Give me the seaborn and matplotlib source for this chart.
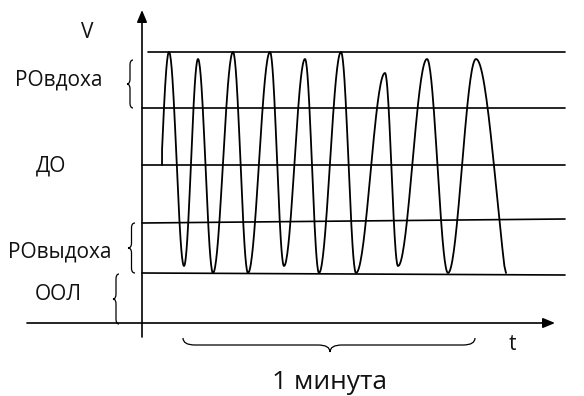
import numpy as np
import seaborn as sns
import matplotlib.pyplot as plt
from matplotlib.path import Path
from matplotlib.patches import PathPatch

# time (t) and volume (V), origin where the two axes cross
peak_t = [27, 56, 91, 128, 163, 199, 243, 285, 334]
peak_v = [271, 264, 271, 271, 264, 271, 250, 264, 264]
trough_t = [42, 71, 106, 142, 177, 214, 256, 306]
trough_v = [57, 50, 50, 57, 50, 50, 57, 50]
start_t, start_v = 20, 158
end_t, end_v = 364, 50

# horizontal level lines: start, end, left value, right value
level_start = [6, 0, 0, 0, 0]
level_end = [423, 423, 423, 423, 423]
level_left = [271, 215, 158, 100, 50]
level_right = [271, 215, 158, 104, 48]

labels = ["V", "РОвдоха", "ДО", "РОвыдоха", "ООЛ"]
label_t = [-55, -83, -91, -82, -84]
label_v = [290, 243, 157, 71, 28]

sns.set_style("white")
plt.rcParams['font.family'] = ['Open Sans', 'DejaVu Sans']

fig = plt.figure(figsize=(5.84, 3.96), dpi=100)
ax = fig.add_axes([0, 0, 1, 1])
ax.set_xlim(-142, 442)
ax.set_ylim(-73, 323)
ax.axis('off')

# build the breathing trace: half-cosine between successive extrema
ext_t = [12] + [v for pair in zip(peak_t, trough_t + [375]) for v in pair]
ext_v = [50] + [v for pair in zip(peak_v, trough_v + [0]) for v in pair]
wave_t, wave_v = [], []
for i in range(len(ext_t) - 1):
    s = np.linspace(0, 1, 40)
    wave_t.extend(ext_t[i] + (ext_t[i+1] - ext_t[i]) * s)
    wave_v.extend(ext_v[i] + (ext_v[i+1] - ext_v[i]) * (1 - np.cos(np.pi * s)) / 2)
wave_t = np.array(wave_t)
wave_v = np.array(wave_v)
keep = (wave_t >= start_t) & ~((wave_t > peak_t[-1]) & (wave_v < end_v))
wave_t = np.concatenate([[start_t], wave_t[keep], [end_t]])
wave_v = np.concatenate([[start_v], wave_v[keep], [end_v]])

sns.lineplot(x=wave_t, y=wave_v, sort=False, estimator=None, color='black', lw=1.3, ax=ax)

for x0, x1, y0, y1 in zip(level_start, level_end, level_left, level_right):
    ax.plot([x0, x1], [y0, y1], color='black', lw=1.2)

# axes with arrows
ax.annotate('', xy=(0, 313), xytext=(0, -14),
            arrowprops=dict(arrowstyle='-|>,head_length=0.6,head_width=0.25', color='black', lw=1.2, mutation_scale=12, shrinkA=0, shrinkB=0))
ax.annotate('', xy=(413, 0), xytext=(-115, 0),
            arrowprops=dict(arrowstyle='-|>,head_length=0.6,head_width=0.25', color='black', lw=1.2, mutation_scale=12, shrinkA=0, shrinkB=0))


def vbrace(x_tip, x_end, v_top, v_bot, v_mid=None):
    if v_mid is None:
        v_mid = (v_top + v_bot) / 2
    xm = (x_tip + x_end) / 2
    r = 5
    verts = [(x_end, v_top), (xm, v_top), (xm, v_top - r),
             (xm, v_mid + r),
             (xm, v_mid), (x_tip, v_mid),
             (xm, v_mid), (xm, v_mid - r),
             (xm, v_bot + r),
             (xm, v_bot), (x_end, v_bot)]
    codes = [Path.MOVETO, Path.CURVE3, Path.CURVE3, Path.LINETO,
             Path.CURVE3, Path.CURVE3, Path.CURVE3, Path.CURVE3,
             Path.LINETO, Path.CURVE3, Path.CURVE3]
    ax.add_patch(PathPatch(Path(verts, codes), fill=False, lw=0.9, color='black'))


def hbrace(t_left, t_right, v_end, v_tip, t_mid):
    vm = (v_end + v_tip) / 2
    r = 12
    verts = [(t_left, v_end), (t_left, vm), (t_left + r, vm),
             (t_mid - r, vm),
             (t_mid, vm), (t_mid, v_tip),
             (t_mid, vm), (t_mid + r, vm),
             (t_right - r, vm),
             (t_right, vm), (t_right, v_end)]
    codes = [Path.MOVETO, Path.CURVE3, Path.CURVE3, Path.LINETO,
             Path.CURVE3, Path.CURVE3, Path.CURVE3, Path.CURVE3,
             Path.LINETO, Path.CURVE3, Path.CURVE3]
    ax.add_patch(PathPatch(Path(verts, codes), fill=False, lw=0.9, color='black'))


vbrace(-15, -9, 263, 215)
vbrace(-14, -7, 100, 50)
vbrace(-29, -23, 49, -1)
hbrace(41, 333, -15, -29, 188)

for txt, tx, vy in zip(labels, label_t, label_v):
    ax.text(tx, vy, txt, ha='center', va='center', fontsize=15, color='#111111')

ax.text(370, -22, "t", ha='center', va='center', fontsize=15, color='#111111')
ax.text(188, -66, "1 минута", ha='center', va='baseline', fontsize=19, color='#111111')

fig.savefig('out.png', dpi=100)
